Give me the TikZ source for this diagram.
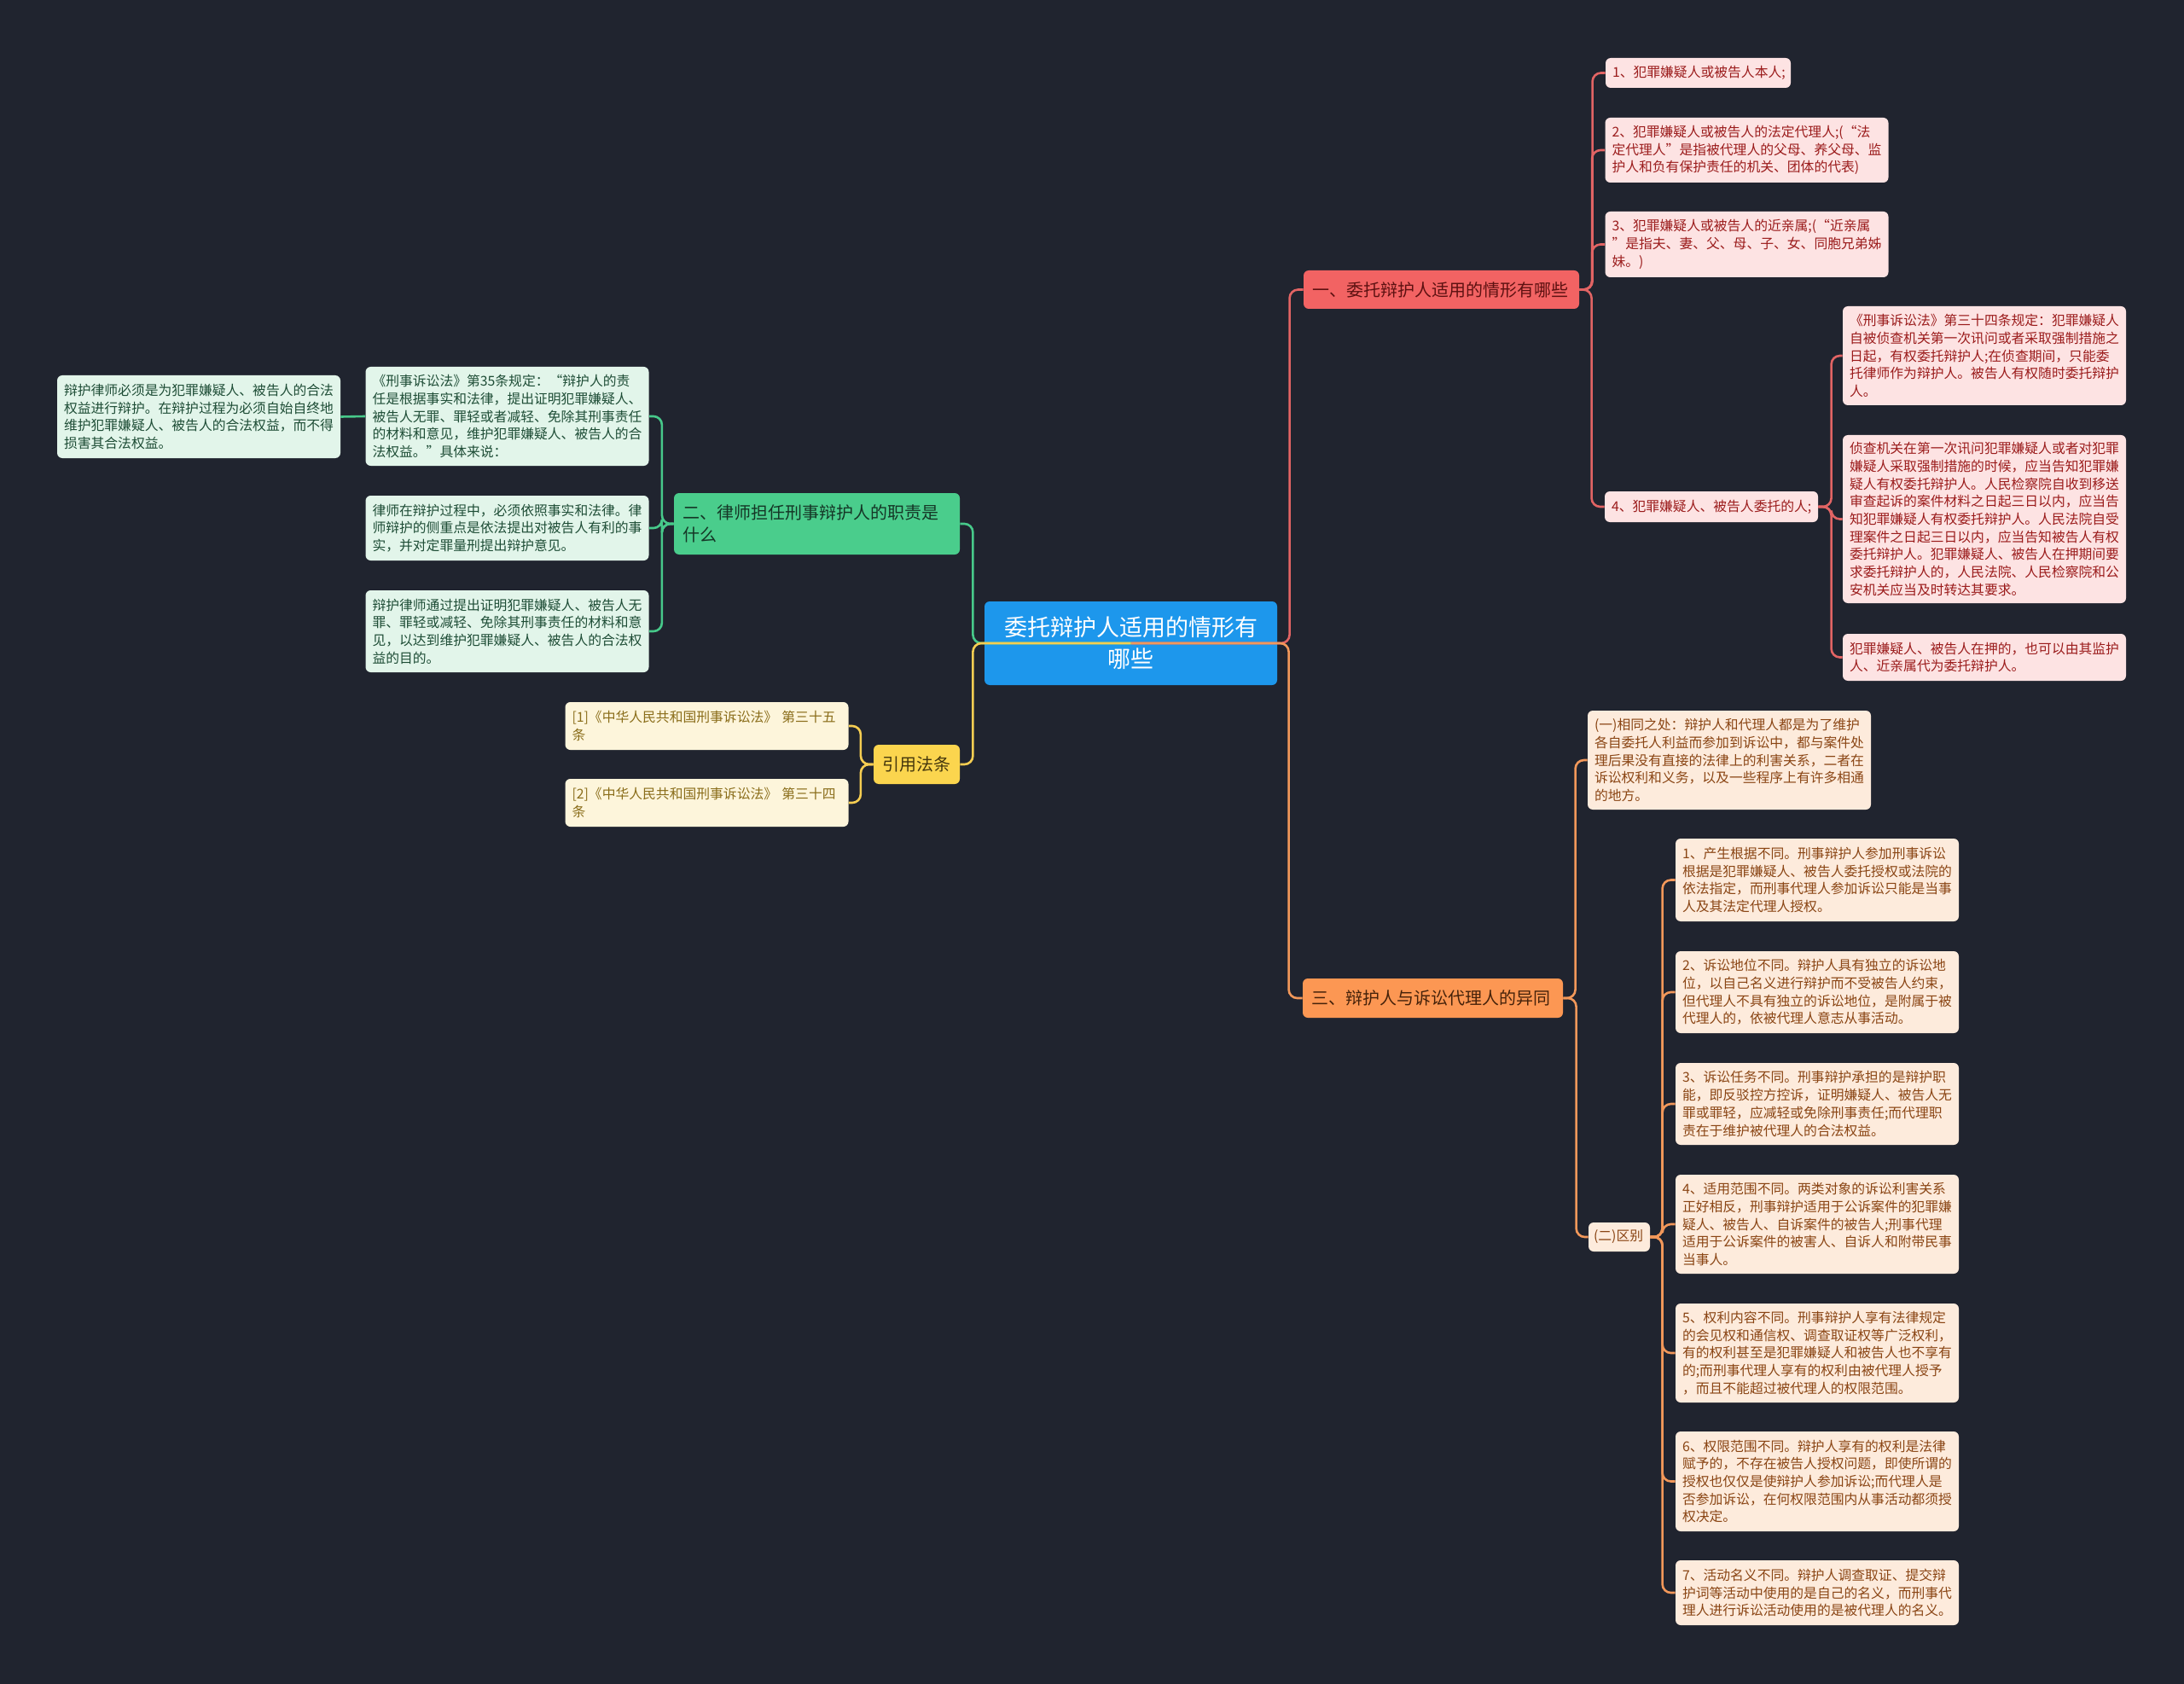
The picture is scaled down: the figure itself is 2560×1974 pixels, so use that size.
\documentclass[tikz,border=0pt]{standalone}
\usepackage{fontspec,xcolor}
\setmainfont{Noto Sans CJK SC}
\definecolor{ink}{HTML}{20242F}
\definecolor{cRoot}{HTML}{1D97EC}
\definecolor{cRed}{HTML}{F26363}
\definecolor{cRedL}{HTML}{FDE3E3}
\definecolor{cRedT}{HTML}{9B1C1C}
\definecolor{cRedW}{HTML}{E26464}
\definecolor{cGrn}{HTML}{4ACD8C}
\definecolor{cGrnL}{HTML}{E2F5EA}
\definecolor{cGrnT}{HTML}{1E4D36}
\definecolor{cGrnW}{HTML}{47C98A}
\definecolor{cYel}{HTML}{FBD54E}
\definecolor{cYelL}{HTML}{FDF5DB}
\definecolor{cYelT}{HTML}{8A6D1A}
\definecolor{cYelW}{HTML}{F5CD52}
\definecolor{cOra}{HTML}{FC9753}
\definecolor{cOraL}{HTML}{FDEBDC}
\definecolor{cOraT}{HTML}{8A4514}
\definecolor{cOraW}{HTML}{F2985A}
\newcommand\leaffont{\fontsize{7.9}{10.35}\selectfont}
\newcommand\twigfont{\fontsize{10}{13}\selectfont}

\begin{document}
\begin{tikzpicture}[x=0.5pt,y=-0.5pt,
    card/.style={rounded corners=3pt,inner ysep=0pt,inner xsep=4pt,align=left,text width=158pt,font=\leaffont},
    twig/.style={rounded corners=3pt,inner ysep=0pt,inner xsep=5pt,align=left,font=\twigfont},
    leafR/.style={card,fill=cRedL,text=cRedT},
    leafG/.style={card,fill=cGrnL,text=cGrnT},
    leafY/.style={card,fill=cYelL,text=cYelT},
    leafO/.style={card,fill=cOraL,text=cOraT},
    lnR/.style={draw=cRedW,line width=1.3pt,rounded corners=5pt},
    lnG/.style={draw=cGrnW,line width=1.3pt,rounded corners=5pt},
    lnY/.style={draw=cYelW,line width=1.3pt,rounded corners=5pt},
    lnO/.style={draw=cOraW,line width=1.3pt,rounded corners=5pt}]
  \fill[ink] (0,0) rectangle (2560,1974);

  % centre
  \node[rounded corners=3pt,fill=cRoot,text=white,align=center,text width=161.5pt,inner xsep=5pt,
        minimum height=49pt,font=\fontsize{13.5}{18.5}\selectfont] (root) at (1325.5,754)
    {委托辩护人适用的情形有\\哪些};

  % branch one (red)
  \node[twig,fill=cRed,text=cRedT!60!black,text width=151.5pt,minimum height=22.5pt] (rb) at (1689.5,339.5)
    {一、委托辩护人适用的情形有哪些};
  \node[leafR,text width=100.5pt,minimum height=17.5pt] (r1) at (1990.5,85.5) {1、犯罪嫌疑人或被告人本人;};
  \node[leafR,minimum height=38pt] (r2) at (2047.5,176)
    {2、犯罪嫌疑人或被告人的法定代理人;(“法\\定代理人”是指被代理人的父母、养父母、监\\护人和负有保护责任的机关、团体的代表)};
  \node[leafR,minimum height=38.5pt] (r3) at (2047.5,286.5)
    {3、犯罪嫌疑人或被告人的近亲属;(“近亲属\\”是指夫、妻、父、母、子、女、同胞兄弟姊\\妹。)};
  \node[leafR,text width=117pt,minimum height=18pt] (r4) at (2006,594) {4、犯罪嫌疑人、被告人委托的人;};
  \node[leafR,minimum height=58pt] (r4a) at (2326,417)
    {《刑事诉讼法》第三十四条规定：犯罪嫌疑人\\自被侦查机关第一次讯问或者采取强制措施之\\日起，有权委托辩护人;在侦查期间，只能委\\托律师作为辩护人。被告人有权随时委托辩护\\人。};
  \node[leafR,minimum height=98.5pt] (r4b) at (2326,608.5)
    {侦查机关在第一次讯问犯罪嫌疑人或者对犯罪\\嫌疑人采取强制措施的时候，应当告知犯罪嫌\\疑人有权委托辩护人。人民检察院自收到移送\\审查起诉的案件材料之日起三日以内，应当告\\知犯罪嫌疑人有权委托辩护人。人民法院自受\\理案件之日起三日以内，应当告知被告人有权\\委托辩护人。犯罪嫌疑人、被告人在押期间要\\求委托辩护人的，人民法院、人民检察院和公\\安机关应当及时转达其要求。};
  \node[leafR,minimum height=27.5pt] (r4c) at (2326,770.5)
    {犯罪嫌疑人、被告人在押的，也可以由其监护\\人、近亲属代为委托辩护人。};

  % branch two (green)
  \node[twig,fill=cGrn,text=cGrnT!70!black,text width=157.5pt,minimum height=36pt] (gb) at (957.5,614)
    {二、律师担任刑事辩护人的职责是\\什么};
  \node[leafG,minimum height=58pt] (g1) at (594.5,488)
    {《刑事诉讼法》第35条规定：“辩护人的责\\任是根据事实和法律，提出证明犯罪嫌疑人、\\被告人无罪、罪轻或者减轻、免除其刑事责任\\的材料和意见，维护犯罪嫌疑人、被告人的合\\法权益。”具体来说：};
  \node[leafG,minimum height=48.5pt] (g1a) at (233,488.5)
    {辩护律师必须是为犯罪嫌疑人、被告人的合法\\权益进行辩护。在辩护过程为必须自始自终地\\维护犯罪嫌疑人、被告人的合法权益，而不得\\损害其合法权益。};
  \node[leafG,minimum height=38pt] (g2) at (594.5,619)
    {律师在辩护过程中，必须依照事实和法律。律\\师辩护的侧重点是依法提出对被告人有利的事\\实，并对定罪量刑提出辩护意见。};
  \node[leafG,minimum height=48pt] (g3) at (594.5,740)
    {辩护律师通过提出证明犯罪嫌疑人、被告人无\\罪、罪轻或减轻、免除其刑事责任的材料和意\\见，以达到维护犯罪嫌疑人、被告人的合法权\\益的目的。};

  % cited articles (yellow)
  \node[twig,fill=cYel,text=cYelT!50!black,align=center,text width=40.5pt,minimum height=23pt] (yb) at (1074.5,896)
    {引用法条};
  \node[leafY,minimum height=28pt] (y1) at (828.5,851) {[1]《中华人民共和国刑事诉讼法》 第三十五\\条};
  \node[leafY,minimum height=28pt] (y2) at (828.5,941) {[2]《中华人民共和国刑事诉讼法》 第三十四\\条};

  % branch three (orange)
  \node[twig,fill=cOra,text=cOraT!50!black,text width=142.5pt,minimum height=23pt] (ob) at (1679.5,1170)
    {三、辩护人与诉讼代理人的异同};
  \node[leafO,minimum height=58pt] (o1) at (2027,891)
    {(一)相同之处：辩护人和代理人都是为了维护\\各自委托人利益而参加到诉讼中，都与案件处\\理后果没有直接的法律上的利害关系，二者在\\诉讼权利和义务，以及一些程序上有许多相通\\的地方。};
  \node[leafO,inner xsep=3pt,text width=30pt,minimum height=17pt] (o2) at (1898,1450) {(二)区别};
  \node[leafO,minimum height=48.5pt] (d1) at (2130,1031.5)
    {1、产生根据不同。刑事辩护人参加刑事诉讼\\根据是犯罪嫌疑人、被告人委托授权或法院的\\依法指定，而刑事代理人参加诉讼只能是当事\\人及其法定代理人授权。};
  \node[leafO,minimum height=48pt] (d2) at (2130,1163)
    {2、诉讼地位不同。辩护人具有独立的诉讼地\\位，以自己名义进行辩护而不受被告人约束，\\但代理人不具有独立的诉讼地位，是附属于被\\代理人的，依被代理人意志从事活动。};
  \node[leafO,minimum height=48pt] (d3) at (2130,1294)
    {3、诉讼任务不同。刑事辩护承担的是辩护职\\能，即反驳控方控诉，证明嫌疑人、被告人无\\罪或罪轻，应减轻或免除刑事责任;而代理职\\责在于维护被代理人的合法权益。};
  \node[leafO,minimum height=58pt] (d4) at (2130,1435)
    {4、适用范围不同。两类对象的诉讼利害关系\\正好相反，刑事辩护适用于公诉案件的犯罪嫌\\疑人、被告人、自诉案件的被告人;刑事代理\\适用于公诉案件的被害人、自诉人和附带民事\\当事人。};
  \node[leafO,minimum height=58pt] (d5) at (2130,1586)
    {5、权利内容不同。刑事辩护人享有法律规定\\的会见权和通信权、调查取证权等广泛权利，\\有的权利甚至是犯罪嫌疑人和被告人也不享有\\的;而刑事代理人享有的权利由被代理人授予\\，而且不能超过被代理人的权限范围。};
  \node[leafO,minimum height=58.5pt] (d6) at (2130,1736.5)
    {6、权限范围不同。辩护人享有的权利是法律\\赋予的，不存在被告人授权问题，即使所谓的\\授权也仅仅是使辩护人参加诉讼;而代理人是\\否参加诉讼，在何权限范围内从事活动都须授\\权决定。};
  \node[leafO,minimum height=38pt] (d7) at (2130,1867)
    {7、活动名义不同。辩护人调查取证、提交辩\\护词等活动中使用的是自己的名义，而刑事代\\理人进行诉讼活动使用的是被代理人的名义。};

  % connectors
  \draw[lnR] (root.center) -| ([xshift=-8pt]rb.west) -- (rb.west);
  \draw[lnO] (root.center) -| ([xshift=-8pt]ob.west) -- (ob.west);
  \draw[lnG] (root.center) -| ([xshift=7.5pt]gb.east) -- (gb.east);
  \draw[lnY] (root.center) -| ([xshift=7.5pt]yb.east) -- (yb.east);
  \foreach \c in {r1,r2,r3,r4}
    \draw[lnR] (rb.east) -| ([xshift=-7.5pt]\c.west) -- (\c.west);
  \foreach \c in {r4a,r4b,r4c}
    \draw[lnR] (r4.east) -| ([xshift=-6.5pt]\c.west) -- (\c.west);
  \foreach \c in {g1,g2,g3}
    \draw[lnG] (gb.west) -| ([xshift=7.5pt]\c.east) -- (\c.east);
  \draw[lnG] (g1.west) -- (g1a.east);
  \foreach \c in {y1,y2}
    \draw[lnY] (yb.west) -| ([xshift=7pt]\c.east) -- (\c.east);
  \foreach \c in {o1,o2}
    \draw[lnO] (ob.east) -| ([xshift=-7pt]\c.west) -- (\c.west);
  \foreach \c in {d1,d2,d3,d4,d5,d6,d7}
    \draw[lnO] (o2.east) -| ([xshift=-7.5pt]\c.west) -- (\c.west);
\end{tikzpicture}
\end{document}
